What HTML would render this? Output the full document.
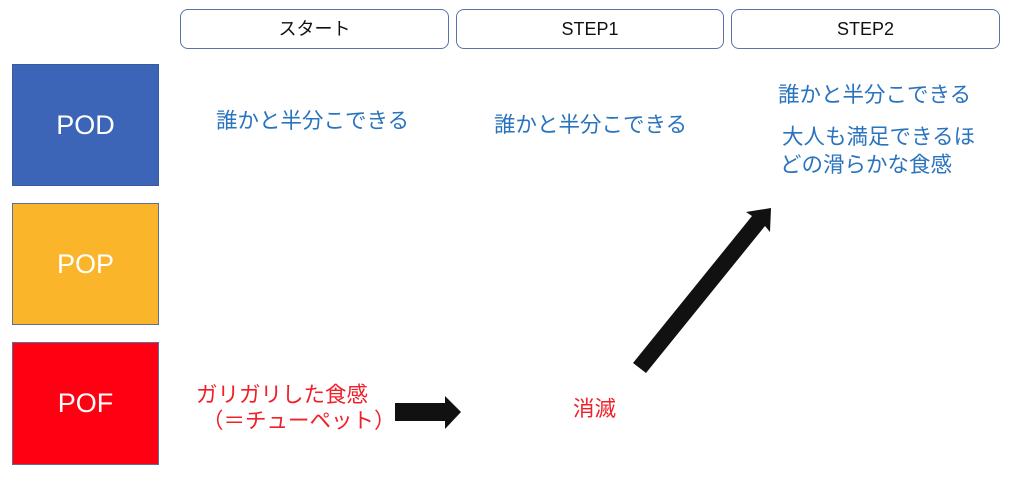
<!DOCTYPE html>
<html><head><meta charset="utf-8"><style>
body{margin:0;width:1024px;height:480px;background:#fff;position:relative;overflow:hidden;font-family:"Liberation Sans","Noto Sans CJK JP",sans-serif}
.h{position:absolute;top:9px;height:40px;border:1.3px solid #5a74a8;border-radius:8px;box-sizing:border-box;text-align:center;line-height:38px;font-size:18px;color:#111}
.b{position:absolute;left:12px;width:147px;height:122px;box-sizing:border-box;border:1px solid #3a5aa0;color:#fff;font-size:27px;display:flex;align-items:center;justify-content:center}
.t{position:absolute;color:#2a74bf;font-size:21.5px;white-space:nowrap;line-height:1.3}
.r{position:absolute;color:#f0202a;font-size:21.5px;white-space:nowrap;line-height:1.2}
</style></head><body>
<div class="h" style="left:180px;width:269px">スタート</div>
<div class="h" style="left:456px;width:268px">STEP1</div>
<div class="h" style="left:731px;width:269px">STEP2</div>
<div class="b" style="top:64px;background:#3c65b8">POD</div>
<div class="b" style="top:203px;background:#fbb52b;border-color:#5a6f99">POP</div>
<div class="b" style="top:342px;height:123px;background:#ff0012;border-color:#5a6f99">POF</div>
<div class="t" style="left:216px;top:108px">誰かと半分こできる</div>
<div class="t" style="left:494px;top:112px">誰かと半分こできる</div>
<div class="t" style="left:778px;top:82px">誰かと半分こできる</div>
<div class="t" style="left:782px;top:123px;line-height:28px">大人も満足できるほ<br><span style="margin-left:-2px">どの滑らかな食感</span></div>
<div class="r" style="left:196px;top:383px">ガリガリした食感<br>&nbsp;（＝チューペット）</div>
<div class="r" style="left:573px;top:397px">消滅</div>
<svg style="position:absolute;left:0;top:0" width="1024" height="480">
<polygon points="395,403 445,403 445,396 461,412 445,429 445,421 395,421" fill="#111"/>
<polygon points="633,363 646,373 765,226 770,232 771,208 746,212 752,216" fill="#111"/>
</svg>
</body></html>
